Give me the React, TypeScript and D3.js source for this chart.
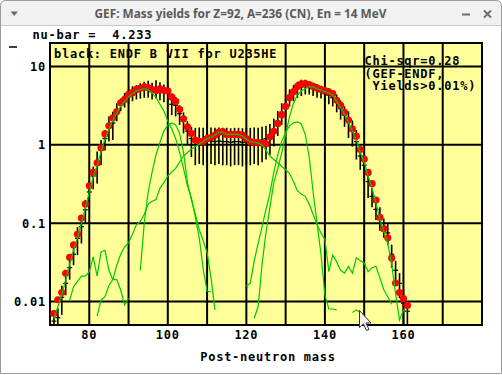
import React from 'react';
import * as d3 from 'd3';

// ---------- data ----------
// GEF post-neutron mass yields (%) (red dots), masses 71..161
const GEF_START = 71;
const gefYield = [
  0.0070, 0.0105, 0.013, 0.0229, 0.0366, 0.0527, 0.0723, 0.116, 0.175, // 71-79
  0.30, 0.445, 0.588, 0.916, 1.38, 1.75, 2.22, 2.66, 3.45, 3.81, // 80-89
  4.41, 4.64, 5.1, 5.3, 5.5, 5.4, 5.1, 4.96, 5.2, 4.96, // 90-99
  4.88, 4.1, 3.59, 2.84, 2.15, 1.70, 1.40, 1.15, 1.11, 1.11, // 100-109
  1.2, 1.25, 1.33, 1.45, 1.48, 1.36, 1.36, 1.36, 1.36, 1.33, // 110-119
  1.2, 1.1, 1.08, 1.07, 1.05, 1.03, 1.27, 1.49, 1.88, 2.43, // 120-129
  3.1, 4.0, 4.78, 5.6, 6.0, 6.05, 5.9, 5.6, 5.3, 5.1, // 130-139
  4.95, 4.75, 4.5, 3.7, 3.2, 2.6, 2.07, 1.6, 1.29, 0.87, // 140-149
  0.66, 0.445, 0.319, 0.197, 0.119, 0.085, 0.065, 0.036, 0.0172, 0.013, // 150-159
  0.0109, 0.0089, // 160-161
];

// ENDF/B-VII evaluated yields (black) with uncertainties, masses 71..161
const ENDF_START = 71;
const endfYield = [
  0.0056, 0.0062, 0.0113, 0.017, 0.027, 0.040, 0.064, 0.090, 0.148, // 71-79
  0.25, 0.40, 0.57, 0.85, 1.2, 1.7, 1.9, 2.7, 3.3, 3.8, // 80-89
  4.2, 4.6, 4.8, 5.0, 5.2, 5.3, 5.0, 5.3, 5.0, 4.7, // 90-99
  4.6, 3.3, 3.2, 2.5, 2.0, 1.5, 1.2, 1.1, 1.12, 1.1, // 100-109
  1.15, 1.12, 1.1, 1.12, 1.1, 1.1, 1.08, 1.1, 1.1, 1.08, // 110-119
  1.1, 1.1, 1.12, 1.1, 1.15, 1.2, 1.3, 1.55, 2.0, 2.6, // 120-129
  3.2, 4.1, 4.7, 5.2, 5.5, 5.6, 5.4, 5.2, 5.0, 4.8, // 130-139
  4.5, 4.3, 4.0, 3.5, 2.9, 2.4, 1.95, 1.5, 1.1, 0.72, // 140-149
  0.55, 0.34, 0.22, 0.15, 0.12, 0.09, 0.075, 0.04, 0.025, 0.017, // 150-159
  0.0095, 0.0075, // 160-161
];
const endfError = [
  0.0022, 0.002, 0.0046, 0.005, 0.008, 0.011, 0.025, 0.035, 0.05, // 71-79
  0.1, 0.13, 0.25, 0.3, 0.35, 0.6, 0.75, 0.7, 0.6, 0.8, // 80-89
  0.9, 1.0, 1.0, 1.1, 1.2, 1.3, 1.2, 1.4, 1.3, 1.2, // 90-99
  1.1, 0.9, 0.9, 0.7, 0.6, 0.5, 0.5, 0.55, 0.55, 0.55, // 100-109
  0.55, 0.55, 0.55, 0.55, 0.55, 0.55, 0.55, 0.55, 0.55, 0.55, // 110-119
  0.55, 0.55, 0.55, 0.55, 0.55, 0.55, 0.55, 0.6, 0.7, 0.8, // 120-129
  0.9, 1.0, 1.1, 1.2, 1.3, 1.2, 1.0, 1.0, 1.0, 0.9, // 130-139
  0.9, 1.0, 0.9, 0.9, 0.8, 0.7, 0.73, 0.55, 0.45, 0.24, // 140-149
  0.17, 0.13, 0.06, 0.04, 0.04, 0.025, 0.022, 0.013, 0.008, 0.006, // 150-159
  0.0045, 0.0025, // 160-161
];

// GEF fission-mode components (green)
const S2_LIGHT_START = 71;
const s2Light = [
  0.0061, 0.0085, 0.012, 0.019, 0.03, 0.045, 0.065, 0.1, 0.155, // 71-79
  0.25, 0.38, 0.55, 0.82, 1.2, 1.6, 2.05, 2.55, 3.1, 3.6, // 80-89
  4.1, 4.5, 4.9, 5.1, 5.2, 5.1, 4.6, 4.0, 3.3, 2.7, // 90-99
  2.0, 1.6, 1.2, 0.8, 0.5, 0.3, 0.21, 0.12, 0.065, 0.026, // 100-109
  0.0135, 0.0133, // 110-111
];
const S1_LIGHT_START = 93;
const s1Light = [
  0.025, 0.1, 0.25, 0.45, 0.75, 1.08, 1.5, 1.78, 1.9, 1.8, // 93-102
  1.4, 0.8, 0.33, 0.2, 0.13, 0.083, 0.06, 0.042, 0.02, 0.0078, // 103-112
];
const SL_START = 82;
const superLong = [
  0.0065, 0.0104, 0.0115, 0.016, 0.019, 0.029, 0.04, 0.05, // 82-89
  0.056, 0.072, 0.095, 0.105, 0.13, 0.175, 0.19, 0.2, 0.28, 0.33, // 90-99
  0.4, 0.45, 0.5, 0.6, 0.72, 0.8, 0.88, 0.95, 1.02, 1.1, // 100-109
  1.2, 1.25, 1.33, 1.45, 1.45, 1.36, 1.36, 1.36, 1.35, 1.3, // 110-119
  1.18, 1.1, 1.08, 1.06, 1.0, 0.85, 0.72, 0.65, 0.59, 0.53, // 120-129
  0.48, 0.43, 0.34, 0.26, 0.235, 0.22, 0.175, 0.13, 0.095, 0.075, // 130-139
  0.062, 0.024, 0.039, 0.032, 0.025, 0.023, 0.028, 0.023, 0.036, 0.033, // 140-149
  0.031, 0.024, 0.027, 0.028, 0.02, 0.0141, 0.0115, 0.0092, // 150-157
];
const S3_LIGHT_START = 75;
const s3Light = [
  0.0104, 0.0154, 0.018, 0.021, 0.021, // 75-79
  0.024, 0.037, 0.021, 0.043, 0.045, 0.025, 0.019, 0.019, 0.014, 0.009, // 80-89
  0.011, // 90
];
const S1_HEAVY_START = 120;
const s1Heavy = [
  0.0156, 0.0171, 0.033, 0.055, 0.09, 0.15, 0.24, 0.45, 0.75, 1.1, // 120-129
  1.45, 1.75, 1.91, 1.97, 1.85, 1.35, 0.7, 0.25, 0.1, 0.04, // 130-139
  0.012, 0.008, 0.008, 0.0078, // 140-143
];
const S2_HEAVY_START = 122;
const s2Heavy = [
  0.0061, 0.0086, 0.03, 0.075, 0.16, 0.33, 0.5, 0.79, // 122-129
  1.35, 2.3, 3.4, 4.3, 4.9, 5.2, 5.55, 5.5, 5.2, 5.0, // 130-139
  4.8, 4.6, 4.3, 3.6, 3.0, 2.45, 1.95, 1.5, 1.15, 0.8, // 140-149
  0.6, 0.4, 0.28, 0.18, 0.112, 0.078, 0.055, 0.03, 0.0125, 0.0058, // 150-159
  0.0078, 0.0075, // 160-161
];
const S3_HEAVY_START = 147;
const s3Heavy = [0.0072, 0.0078, 0.0072]; // 147-149

const xGrid = [80, 90, 100, 110, 120, 130, 140, 150, 160, 170];
const xTickValues = [80, 100, 120, 140, 160];
const yTickValues = [0.01, 0.1, 1, 10];
const yTickLabels = ['0.01', '0.1', '1', '10'];

const windowTitle = 'GEF: Mass yields for Z=92, A=236 (CN), En = 14 MeV';
const nuBarText = 'nu-bar =  4.233';
const legendText = 'black: ENDF B VII for U235HE';
const chiLines = ['Chi-sqr=0.28', '(GEF-ENDF,', ' Yields>0.01%)'];
const xTitle = 'Post-neutron mass';

// ---------- component ----------
const MONO = '"DejaVu Sans Mono", "Liberation Mono", monospace';
const GREEN = '#00c800';

export default function App() {
  const W = 502;
  const H = 375;
  const left = 50, right = 482, top = 43, bottom = 325;
  const x = d3.scaleLinear().domain([70, 180]).range([left, right]);
  const y = d3.scaleLog().domain([0.005, 20]).range([bottom, top]);
  const [yMin, yMax] = y.domain();

  const toPts = (start: number, vals: number[]) =>
    vals.map((v, i) => [start + i, v] as [number, number]);
  const line = d3
    .line<[number, number]>()
    .x((d) => x(d[0]))
    .y((d) => y(d[1]));

  const greens = [
    toPts(S2_LIGHT_START, s2Light),
    toPts(S1_LIGHT_START, s1Light),
    toPts(SL_START, superLong),
    toPts(S3_LIGHT_START, s3Light),
    toPts(S1_HEAVY_START, s1Heavy),
    toPts(S2_HEAVY_START, s2Heavy),
    toPts(S3_HEAVY_START, s3Heavy),
  ];
  const gef = toPts(GEF_START, gefYield);
  const endf = endfYield.map((v, i) => ({
    m: ENDF_START + i,
    v,
    lo: Math.max(v - endfError[i], yMin),
    hi: Math.min(v + endfError[i], yMax),
  }));

  const txt = {
    fontFamily: MONO,
    fontWeight: 700,
    fontSize: 12,
    letterSpacing: 0.75,
    whiteSpace: 'pre' as const,
  };

  return (
    <svg
      width={W}
      height={H}
      viewBox={`0 0 ${W} ${H}`}
      style={{ position: 'absolute', left: 0, top: 0, display: 'block' }}
    >
      <defs>
        <linearGradient id="tb" x1="0" y1="0" x2="0" y2="1">
          <stop offset="0" stopColor="#f2f2f2" />
          <stop offset="1" stopColor="#dedede" />
        </linearGradient>
        <clipPath id="plotClip">
          <rect x={left} y={top} width={right - left} height={bottom - top} />
        </clipPath>
      </defs>

      {/* window chrome */}
      <rect x={0} y={0} width={W} height={H} fill="#ffffff" />
      <path
        d={`M0.5 ${H - 0.5} L0.5 6 Q0.5 0.5 6 0.5 L${W - 6} 0.5 Q${W - 0.5} 0.5 ${W - 0.5} 6 L${W - 0.5} 25 L0.5 25 Z`}
        fill="url(#tb)"
      />
      <line x1={0} x2={W} y1={25.5} y2={25.5} stroke="#c8c8c8" />
      <path
        d={`M0.5 ${H - 1.5} L0.5 6 Q0.5 0.5 6 0.5 L${W - 6} 0.5 Q${W - 0.5} 0.5 ${W - 0.5} 6 L${W - 0.5} ${H - 1.5} Z`}
        fill="none"
        stroke="#9c9c9c"
      />
      <polygon points="10.5,11.5 18,11.5 14.25,16" fill="#6a6a6a" />
      <line x1={462} x2={470} y1={14.5} y2={14.5} stroke="#6a6a6a" strokeWidth={2} />
      <line x1={484} x2={491} y1={10.5} y2={17.5} stroke="#6a6a6a" strokeWidth={1.8} />
      <line x1={491} x2={484} y1={10.5} y2={17.5} stroke="#6a6a6a" strokeWidth={1.8} />
      <text
        x={240.5}
        y={17.5}
        textAnchor="middle"
        textLength={292}
        lengthAdjust="spacingAndGlyphs"
        style={{ fontFamily: '"Noto Sans", "DejaVu Sans", sans-serif', fontWeight: 700, fontSize: 12 }}
        fill="#595959"
      >
        {windowTitle}
      </text>

      {/* header text */}
      <text x={32.5} y={39} style={txt}>
        {nuBarText}
      </text>
      <line x1={9} x2={17} y1={47} y2={47} stroke="#000" strokeWidth={1.5} />

      {/* plot area */}
      <rect x={left} y={top} width={right - left} height={bottom - top} fill="#ffff99" />
      {xGrid.map((g) => (
        <line key={'gx' + g} x1={x(g)} x2={x(g)} y1={top} y2={bottom} stroke="#000" strokeWidth={2} />
      ))}
      {yTickValues.map((g) => (
        <line key={'gy' + g} x1={left} x2={right} y1={y(g)} y2={y(g)} stroke="#000" strokeWidth={2} />
      ))}
      <rect
        x={left}
        y={top}
        width={right - left}
        height={bottom - top}
        fill="none"
        stroke="#000"
        strokeWidth={2}
      />

      <g clipPath="url(#plotClip)">
        {/* ENDF error bars */}
        {endf.map((d) => (
          <g key={'e' + d.m}>
            <line x1={x(d.m)} x2={x(d.m)} y1={y(d.lo)} y2={y(d.hi)} stroke="#000" strokeWidth={1.6} />
            <line x1={x(d.m) - 2.5} x2={x(d.m) + 2.5} y1={y(d.v)} y2={y(d.v)} stroke="#000" strokeWidth={1.2} />
          </g>
        ))}
        {/* GEF dots */}
        {gef.map((d) => (
          <circle key={'g' + d[0]} cx={x(d[0])} cy={y(d[1])} r={3.6} fill="#ff0000" />
        ))}
        {/* GEF components */}
        {greens.map((pts, i) => (
          <path key={'l' + i} d={line(pts) || ''} fill="none" stroke={GREEN} strokeWidth={1.2} />
        ))}
      </g>

      {/* legend texts */}
      <text x={54} y={58} style={txt}>
        {legendText}
      </text>
      {chiLines.map((s, i) => (
        <text key={'c' + i} x={364.5} y={65 + i * 12.5} style={txt}>
          {s}
        </text>
      ))}

      {/* axes labels */}
      {yTickValues.map((v, i) => (
        <text key={'yt' + v} x={46} y={y(v) + 4.5} textAnchor="end" style={txt}>
          {yTickLabels[i]}
        </text>
      ))}
      {xTickValues.map((v) => (
        <text key={'xt' + v} x={x(v)} y={339} textAnchor="middle" style={txt}>
          {String(v)}
        </text>
      ))}
      <text x={268} y={361} textAnchor="middle" style={txt}>
        {xTitle}
      </text>

      {/* mouse pointer */}
      <path
        transform="translate(359.5,310.5)"
        d="M0 0 L0 17 L4 13.5 L7 20 L9.5 19 L6.5 12.5 L11.5 12.5 Z"
        fill="#f4f4f4"
        stroke="#333"
        strokeWidth={1}
      />
    </svg>
  );
}
